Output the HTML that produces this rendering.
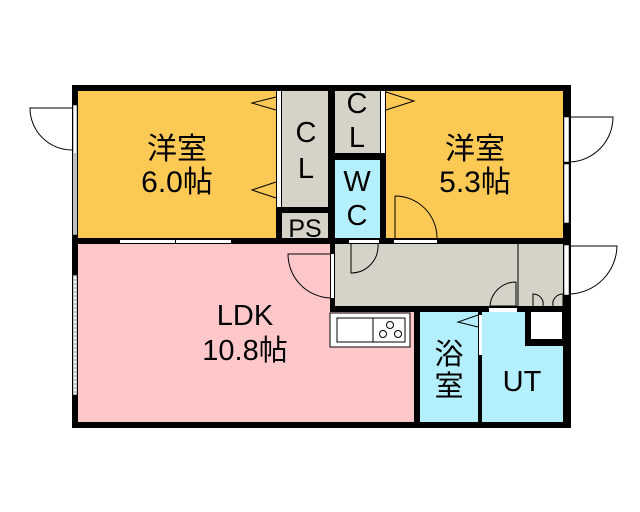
<!DOCTYPE html>
<html><head><meta charset="utf-8"><style>
html,body{margin:0;padding:0;background:#fff;}
svg{display:block}
text{font-family:"Liberation Sans","Noto Sans CJK JP",sans-serif;fill:#000;text-anchor:middle}
</style></head><body>
<svg width="640" height="512" viewBox="0 0 640 512">
<rect x="72" y="85" width="499" height="343" fill="#000"/>
<rect x="78" y="91" width="198" height="147" fill="#fdc955"/>
<rect x="386" y="91" width="177" height="147" fill="#fdc955"/>
<rect x="282" y="91" width="46" height="116" fill="#d5d3c8"/>
<rect x="282" y="213" width="46" height="25" fill="#d5d3c8"/>
<rect x="335" y="91" width="45" height="62" fill="#d5d3c8"/>
<rect x="335" y="160" width="45" height="78" fill="#b4effd"/>
<rect x="335" y="244" width="228" height="62" fill="#d5d3c8"/>
<rect x="78" y="244" width="252" height="68" fill="#fec8ca"/>
<rect x="78" y="312" width="336" height="110" fill="#fec8ca"/>
<rect x="420" y="312" width="58" height="110" fill="#b4effd"/>
<rect x="482" y="312" width="81" height="110" fill="#b4effd"/>
<rect x="525" y="306" width="40" height="40" fill="#000"/>
<rect x="531" y="312" width="31" height="27" fill="#fff"/>
<line x1="518" y1="244" x2="518" y2="306" stroke="#000" stroke-width="1"/>
<rect x="330" y="313" width="80" height="34" fill="#fff" stroke="#000" stroke-width="1"/>
<rect x="337" y="318" width="36" height="24" fill="#fff" stroke="#000" stroke-width="1"/>
<rect x="373" y="318" width="32" height="24" fill="#fff" stroke="#000" stroke-width="1"/>
<circle cx="383" cy="334" r="3.5" fill="none" stroke="#000"/>
<circle cx="390" cy="325" r="3.5" fill="none" stroke="#000"/>
<circle cx="398" cy="334" r="3.5" fill="none" stroke="#000"/>
<rect x="73" y="105" width="4" height="130" fill="#fff" stroke="#000" stroke-width="0.5"/>
<line x1="75" y1="153" x2="75" y2="235" stroke="#000" stroke-width="0.5"/>
<rect x="73" y="275" width="4" height="120" fill="#fff" stroke="#000" stroke-width="0.5"/>
<line x1="75" y1="275" x2="75" y2="395" stroke="#000" stroke-width="0.5" stroke-dasharray="2,2"/>
<rect x="564" y="117" width="5" height="45" fill="#fff" stroke="#000" stroke-width="0.5"/>
<rect x="564" y="164" width="5" height="59" fill="#fff" stroke="#000" stroke-width="0.5"/>
<rect x="564" y="245" width="5" height="50" fill="#fff" stroke="#000" stroke-width="0.5"/>
<rect x="120" y="240" width="55" height="3" fill="#fff"/>
<rect x="176" y="240" width="55" height="3" fill="#fff"/>
<rect x="277" y="91" width="4" height="116" fill="#fff"/>
<rect x="381" y="91" width="4" height="62" fill="#fff"/>
<rect x="349" y="240" width="30" height="3" fill="#fff"/>
<rect x="394" y="240" width="43" height="3" fill="#fff"/>
<rect x="331" y="254" width="3" height="44" fill="#fff"/>
<rect x="479" y="315" width="3" height="40" fill="#fff"/>
<rect x="489" y="308" width="28" height="4" fill="#fff"/>
<g fill="none" stroke="#000" stroke-width="1">
<path d="M72 108 H30 A42 42 0 0 0 72 150"/>
<path d="M570 117 H613 A45 45 0 0 1 570 162"/>
<path d="M570 246 H617 A49 49 0 0 1 570 294"/>
<path d="M395 196 V238 M395 196 A42 42 0 0 1 437 238"/>
<path d="M351 244 V273 A27 27 0 0 0 378 244"/>
<path d="M330 254 H288 A44 44 0 0 0 330 298" />
<path d="M516 282 V306 H490 A26 26 0 0 1 516 282"/>
<path d="M533 306 V294 A10 10 0 0 1 543 306 M563 306 V294 A10 10 0 0 0 553 306"/>
<path d="M276 97 L252 103 L276 110"/>
<path d="M276 182 L252 190 L276 198"/>
<path d="M386 92 L414 101 L386 110"/>
<path d="M478 315 L458 322 L478 327"/>
</g>
<text x="177" y="159" font-size="30">洋室</text>
<text x="177" y="192" font-size="30">6.0帖</text>
<text x="475" y="159" font-size="30">洋室</text>
<text x="475" y="192" font-size="30">5.3帖</text>
<text x="306" y="142" font-size="29">C</text>
<text x="306" y="178" font-size="29">L</text>
<text x="305" y="237" font-size="25">PS</text>
<text x="357" y="113" font-size="29">C</text>
<text x="357" y="147" font-size="29">L</text>
<text x="357" y="191" font-size="29">W</text>
<text x="357" y="225" font-size="29">C</text>
<text x="245" y="325" font-size="29">LDK</text>
<text x="245" y="360" font-size="29">10.8帖</text>
<text x="449" y="364" font-size="29">浴</text>
<text x="449" y="396" font-size="29">室</text>
<text x="522" y="391" font-size="29">UT</text>
</svg>
</body></html>
